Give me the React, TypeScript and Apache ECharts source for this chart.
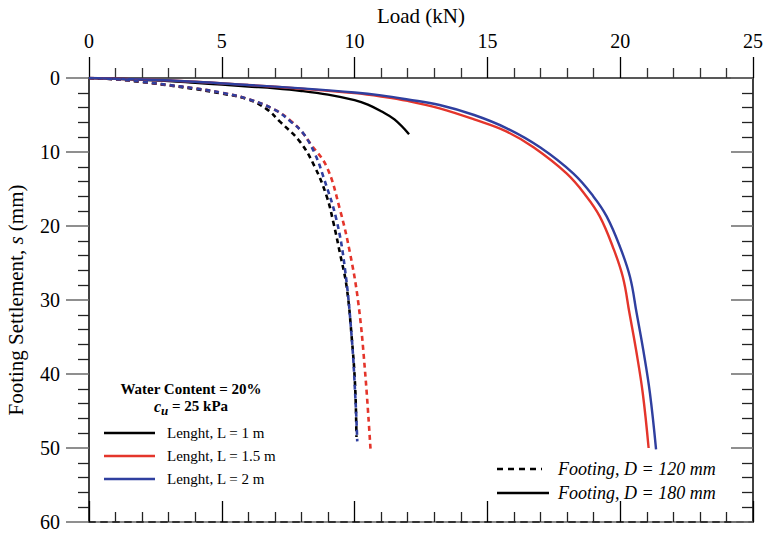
import React, { useEffect, useRef } from "react";
import * as echarts from "echarts";

// Load (kN) vs settlement (mm)
const solidL1: number[][] = [[0,0],[1,0.1],[2,0.25],[3,0.4],[4,0.65],[5,0.9],[6,1.15],[7,1.4],[8,1.75],[9,2.25],[10,3.0],[10.5,3.6],[11,4.5],[11.5,5.6],[12.05,7.6]];
const solidL15: number[][] = [[0,0],[2,0.2],[4,0.5],[6,0.95],[8,1.45],[10,2.05],[11,2.5],[12,3.1],[13.2,4.1],[14.5,5.6],[15.73,7.25],[16.75,9.4],[17.98,12.9],[18.73,16.0],[19.23,18.7],[19.72,22.8],[20.1,26.9],[20.35,31.8],[20.6,36.8],[20.85,42.6],[21.07,50]];
const solidL2: number[][] = [[0,0],[2,0.2],[4,0.5],[6,0.95],[8,1.4],[10,1.95],[11,2.35],[12,2.9],[13.2,3.65],[14.5,5.0],[15.73,6.8],[16.98,9.37],[18.23,12.9],[18.99,16.0],[19.49,18.7],[19.99,22.8],[20.37,26.9],[20.62,31.8],[20.87,36.8],[21.12,42.6],[21.35,50.2]];
const dashL1: number[][] = [[0,0],[1,0.18],[2,0.55],[3,1.0],[4,1.5],[5,2.1],[6,2.9],[6.69,4.2],[7.19,5.9],[7.94,8.6],[8.5,12.0],[8.95,16.0],[9.2,19.5],[9.45,23.7],[9.7,28.2],[9.89,35],[10.02,41.7],[10.07,48.5]];
const dashL15: number[][] = [[0,0],[1,0.15],[2,0.5],[3,0.95],[4,1.4],[5,2.0],[6,2.85],[7,4.3],[7.6,5.8],[8.0,7.2],[8.32,8.8],[8.95,12.0],[9.45,17.8],[9.83,23.7],[10.14,30.4],[10.39,39.5],[10.6,50.2]];
const dashL2: number[][] = [[0,0],[1,0.15],[2,0.5],[3,0.95],[4,1.4],[5,2.0],[6,2.85],[7,4.3],[7.6,5.9],[8.07,7.5],[8.5,10.2],[8.82,13.3],[9.32,19.2],[9.64,25.9],[9.89,35],[10.04,44],[10.1,49.1]];

const legendLabels = ["Lenght, L = 1 m", "Lenght, L = 1.5 m", "Lenght, L = 2 m"];
const footingLabels = ["Footing, D = 120 mm", "Footing, D = 180 mm"];

const BLACK = "#000000";
const RED = "#e4352b";
const BLUE = "#2f3f9f";
const FONT = "Liberation Serif";

export default function App() {
  const ref = useRef<HTMLDivElement>(null);
  useEffect(() => {
    const chart = echarts.init(ref.current!, null, { renderer: "svg" });
    const mk = (name: string, data: number[][], color: string, dashed: boolean) => ({
      name,
      type: "line",
      xAxisIndex: 0,
      yAxisIndex: 0,
      data,
      smooth: 0.4,
      showSymbol: false,
      symbol: "none",
      lineStyle: dashed
        ? { color, width: 2.6, type: [5, 4] }
        : { color, width: 2.4 },
      z: 3,
    });
    const xCommon = {
      type: "value",
      min: 0,
      max: 25,
      interval: 5,
      splitLine: { show: false },
    };
    const yCommon = {
      type: "value",
      min: 0,
      max: 60,
      interval: 10,
      inverse: true,
      splitLine: { show: false },
    };
    const legendItems: any[] = [];
    const lColors = [BLACK, RED, BLUE];
    const lY = [433, 456, 479];
    lColors.forEach((c, i) => {
      legendItems.push({
        type: "line",
        shape: { x1: 104, y1: lY[i], x2: 155, y2: lY[i] },
        style: { stroke: c, lineWidth: 2.4 },
      });
      legendItems.push({
        type: "text",
        x: 167,
        y: lY[i],
        style: { text: legendLabels[i], font: `15px "${FONT}"`, fill: "#000", verticalAlign: "middle" },
      });
    });
    legendItems.push({
      type: "text",
      x: 191,
      y: 389,
      style: { text: "Water Content = 20%", font: `bold 15px "${FONT}"`, fill: "#000", align: "center", verticalAlign: "middle" },
    });
    legendItems.push({
      type: "text",
      x: 191,
      y: 406,
      style: {
        text: "{c|c}{u|u}{t| = 25 kPa}",
        align: "center",
        verticalAlign: "middle",
        rich: {
          c: { fontFamily: FONT, fontSize: 16, fontWeight: "bold", fontStyle: "italic", fill: "#000" },
          u: { fontFamily: FONT, fontSize: 13, fontWeight: "bold", fontStyle: "italic", fill: "#000", padding: [8, 0, 0, 0] },
          t: { fontFamily: FONT, fontSize: 15, fontWeight: "bold", fill: "#000" },
        },
      },
    });
    legendItems.push({
      type: "line",
      shape: { x1: 497, y1: 469, x2: 542, y2: 469 },
      style: { stroke: BLACK, lineWidth: 2.6, lineDash: [6, 5] },
    });
    legendItems.push({
      type: "line",
      shape: { x1: 497, y1: 493, x2: 549, y2: 493 },
      style: { stroke: BLACK, lineWidth: 2.4 },
    });
    footingLabels.forEach((t, i) => {
      legendItems.push({
        type: "text",
        x: 558,
        y: [469, 493][i],
        style: { text: t, font: `italic 18px "${FONT}"`, fill: "#000", verticalAlign: "middle" },
      });
    });

    chart.setOption({
      animation: false,
      backgroundColor: "#ffffff",
      grid: { left: 89, right: 11, top: 78, bottom: 11, containLabel: false, outerBoundsMode: "none" },
      xAxis: [
        {
          ...xCommon,
          position: "top",
          name: "Load (kN)",
          nameLocation: "middle",
          nameGap: 52,
          nameTextStyle: { fontFamily: FONT, fontSize: 21, color: "#000" },
          axisLine: { show: true, onZero: false, lineStyle: { color: "#222", width: 1.5 } },
          axisTick: { show: true, inside: false, length: 21, lineStyle: { color: "#000", width: 1.3 } },
          minorTick: { show: true, splitNumber: 5, length: 10, lineStyle: { color: "#333", width: 1.3 } },
          axisLabel: { show: true, margin: 27, fontFamily: FONT, fontSize: 20, color: "#000" },
        },
        {
          ...xCommon,
          position: "bottom",
          axisLine: { show: true, onZero: false, lineStyle: { color: "#8a8a8a", width: 2 } },
          axisTick: { show: true, inside: true, length: 21, lineStyle: { color: "#000", width: 1.3 } },
          minorTick: { show: true, splitNumber: 5, length: 10, lineStyle: { color: "#222", width: 1.3 } },
          axisLabel: { show: false },
        },
        {
          ...xCommon,
          position: "bottom",
          axisLine: { show: true, onZero: false, lineStyle: { color: "#333", width: 2, type: [6, 6] } },
          axisTick: { show: false },
          axisLabel: { show: false },
        },
      ],
      yAxis: [
        {
          ...yCommon,
          position: "left",
          name: "{a|Footing Settlement, }{b|s}{a| (mm)}",
          nameLocation: "middle",
          nameGap: 63,
          nameRotate: 90,
          nameTextStyle: {
            rich: {
              a: { fontFamily: FONT, fontSize: 21, color: "#000" },
              b: { fontFamily: FONT, fontSize: 21, color: "#000", fontStyle: "italic" },
            },
          },
          axisLine: { show: true, onZero: false, lineStyle: { color: "#000", width: 1.5 } },
          axisTick: { show: true, inside: false, length: 23, lineStyle: { color: "#6a6a6a", width: 1.5 } },
          minorTick: { show: true, splitNumber: 5, length: 11, lineStyle: { color: "#222", width: 1.3 } },
          axisLabel: { show: true, margin: 29, fontFamily: FONT, fontSize: 20, color: "#000" },
        },
        {
          ...yCommon,
          position: "right",
          axisLine: { show: true, onZero: false, lineStyle: { color: "#000", width: 1.5 } },
          axisTick: { show: true, inside: true, length: 22, lineStyle: { color: "#6a6a6a", width: 1.5 } },
          minorTick: { show: true, splitNumber: 5, length: 11, lineStyle: { color: "#222", width: 1.3 } },
          axisLabel: { show: false },
        },
      ],
      series: [
        mk("L1 D180", solidL1, BLACK, false),
        mk("L1.5 D180", solidL15, RED, false),
        mk("L2 D180", solidL2, BLUE, false),
        mk("L1 D120", dashL1, BLACK, true),
        mk("L1.5 D120", dashL15, RED, true),
        mk("L2 D120", dashL2, BLUE, true),
      ],
      graphic: legendItems,
    });
    return () => chart.dispose();
  }, []);
  return <div ref={ref} style={{ position: "fixed", left: 0, top: 0, width: 764, height: 533 }} />;
}
